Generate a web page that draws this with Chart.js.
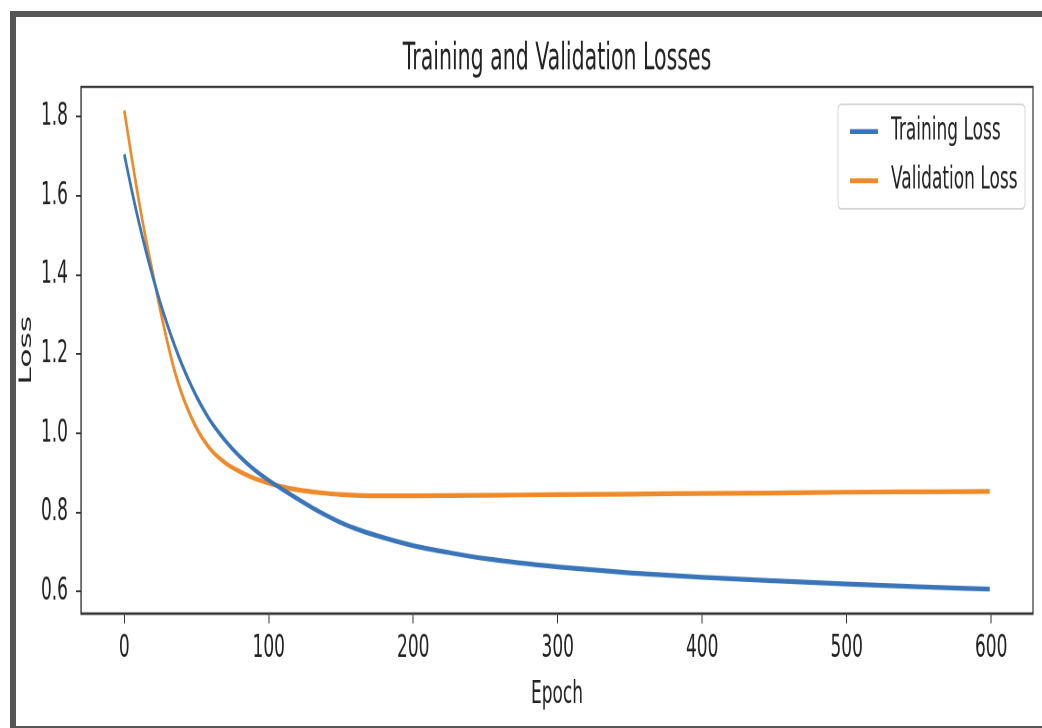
<!DOCTYPE html>
<html>
<head>
<meta charset="utf-8">
<script src="https://cdn.jsdelivr.net/npm/chart.js@4.4.1/dist/chart.umd.min.js"></script>
<style>
  html, body { margin: 0; padding: 0; background: #fff; }
  body { width: 1042px; height: 728px; position: relative; overflow: hidden; }
  #frame {
    position: absolute; left: 10px; top: 11px; width: 1040px; height: 709px;
    border-left: 6px solid #555; border-top: 6px solid #555; border-bottom: 2px solid #555;
  }
  /* the reference is stretched vertically, so draw short and scale up */
  #wrap {
    position: absolute; left: 0; top: 0; width: 1042px; height: 394px;
    transform: scaleY(1.8477); transform-origin: 0 0;
  }
</style>
</head>
<body>
<div id="frame"></div>
<div id="wrap"><canvas id="chart" width="1042" height="394"></canvas></div>
<script>
// Training and Validation Losses
const trainEpochs = [0, 5, 10, 15, 20, 25, 30, 35, 40, 45, 50, 55, 60, 70, 80, 90, 100, 110, 120, 130, 140, 150, 160, 175, 200, 225, 250, 300, 350, 400, 450, 500, 550, 599];
const trainLoss = [1.705, 1.617, 1.535, 1.46, 1.392, 1.329, 1.272, 1.22, 1.173, 1.131, 1.093, 1.059, 1.029, 0.981, 0.941, 0.908, 0.881, 0.857, 0.834, 0.812, 0.792, 0.774, 0.759, 0.741, 0.716, 0.698, 0.683, 0.662, 0.647, 0.636, 0.627, 0.619, 0.612, 0.606];

const valEpochs = [0, 5, 10, 15, 20, 25, 30, 35, 40, 45, 50, 60, 70, 80, 90, 100, 110, 120, 130, 140, 150, 175, 200, 250, 300, 350, 400, 450, 500, 550, 599];
const valLoss = [1.816, 1.70, 1.59, 1.49, 1.40, 1.31, 1.228, 1.155, 1.098, 1.052, 1.013, 0.958, 0.925, 0.903, 0.886, 0.874, 0.864, 0.857, 0.852, 0.848, 0.845, 0.842, 0.842, 0.843, 0.845, 0.846, 0.848, 0.849, 0.851, 0.852, 0.853];

const xTicks = [0, 100, 200, 300, 400, 500, 600];
const yTicks = [0.6, 0.8, 1.0, 1.2, 1.4, 1.6, 1.8];

const blue = '#3b75b9';
const orange = '#ef8a2a';
const ink = '#222';

Chart.defaults.font.family = "'DejaVu Sans', sans-serif";
Chart.defaults.color = ink;

const toPoints = (xs, ys) => xs.map((x, i) => ({ x: x, y: ys[i] }));

// axes box, title and legend the matplotlib way
const mplBits = {
  id: 'mplBits',
  afterDraw(chart) {
    const { ctx, chartArea: a } = chart;
    ctx.save();
    ctx.strokeStyle = '#333';
    ctx.lineWidth = 1.2;
    ctx.strokeRect(a.left, a.top, a.right - a.left, a.bottom - a.top);

    ctx.fillStyle = ink;
    ctx.font = "20.5px 'DejaVu Sans', sans-serif";
    ctx.textAlign = 'center';
    ctx.textBaseline = 'middle';
    ctx.fillText('Training and Validation Losses', (a.left + a.right) / 2, 32.3);

    // legend box, upper right
    const bx = 838, by = 56.5, bw = 187, bh = 56.5, r = 3;
    ctx.beginPath();
    ctx.roundRect(bx, by, bw, bh, r);
    ctx.fillStyle = 'rgba(255,255,255,0.8)';
    ctx.fill();
    ctx.strokeStyle = '#d6d6d6';
    ctx.lineWidth = 1;
    ctx.stroke();

    ctx.font = "17px 'DejaVu Sans', sans-serif";
    ctx.textAlign = 'left';
    chart.data.datasets.forEach((ds, i) => {
      const y = 71.2 + i * 26.6;
      ctx.strokeStyle = ds.borderColor;
      ctx.lineWidth = 2.6;
      ctx.beginPath();
      ctx.moveTo(850, y);
      ctx.lineTo(878, y);
      ctx.stroke();
      ctx.fillStyle = ink;
      ctx.fillText(ds.label, 891, y);
    });
    ctx.restore();
  }
};

new Chart(document.getElementById('chart'), {
  type: 'line',
  data: {
    datasets: [
      { label: 'Training Loss', data: toPoints(trainEpochs, trainLoss), borderColor: blue, borderWidth: 2.6, pointRadius: 0, cubicInterpolationMode: 'monotone' },
      { label: 'Validation Loss', data: toPoints(valEpochs, valLoss), borderColor: orange, borderWidth: 2.6, pointRadius: 0, cubicInterpolationMode: 'monotone' }
    ]
  },
  options: {
    responsive: false,
    animation: false,
    devicePixelRatio: 2,
    layout: { padding: { top: 47, right: 9, left: 0, bottom: 0 } },
    plugins: { legend: { display: false }, title: { display: false }, tooltip: { enabled: false } },
    scales: {
      x: {
        type: 'linear',
        min: -29.95,
        max: 628.95,
        afterFit: (s) => { s.height = 62; },
        afterBuildTicks: (s) => { s.ticks = xTicks.map(v => ({ value: v })); },
        grid: { drawOnChartArea: false, drawTicks: true, tickLength: 5.4, color: '#333' },
        border: { display: true, color: '#333', width: 1.2 },
        ticks: { font: { size: 17 }, padding: 3.5, maxRotation: 0, color: ink },
        title: { display: true, text: 'Epoch', font: { size: 17 }, padding: { top: 0, bottom: 7.6 }, color: ink }
      },
      y: {
        min: 0.5445,
        max: 1.8755,
        afterFit: (s) => { s.width = 81; },
        afterBuildTicks: (s) => { s.ticks = yTicks.map(v => ({ value: v })); },
        grid: { drawOnChartArea: false, drawTicks: true, tickLength: 5, color: '#333' },
        border: { display: true, color: '#333', width: 1.2 },
        ticks: { font: { size: 17 }, padding: 8, color: ink, callback: (v) => v.toFixed(1) },
        title: { display: true, text: 'Loss', font: { size: 17 }, padding: { top: 16.5, bottom: 0 }, color: ink }
      }
    }
  },
  plugins: [mplBits]
});
</script>
</body>
</html>
